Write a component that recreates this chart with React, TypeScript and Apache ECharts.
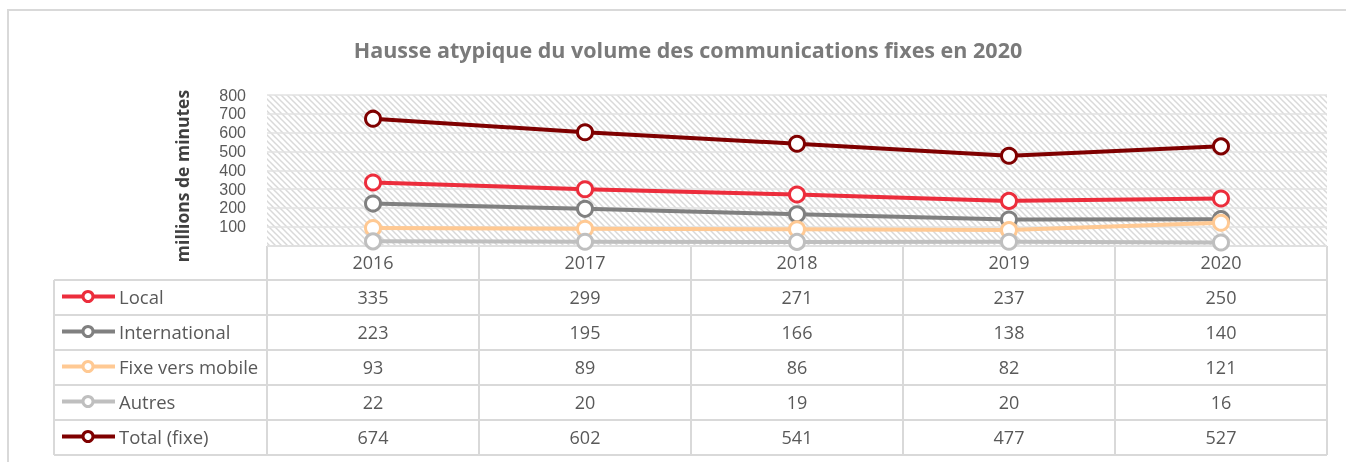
import React, { useEffect, useRef } from "react";
import * as echarts from "echarts";

const years = ["2016", "2017", "2018", "2019", "2020"];
const seriesNames = ["Local", "International", "Fixe vers mobile", "Autres", "Total (fixe)"];
const local = [335, 299, 271, 237, 250];
const international = [223, 195, 166, 138, 140];
const fixeVersMobile = [93, 89, 86, 82, 121];
const autres = [22, 20, 19, 20, 16];
const total = [674, 602, 541, 477, 527];
const seriesData = [local, international, fixeVersMobile, autres, total];
const seriesColors = ["#EC2D3C", "#808080", "#FFC993", "#BFBFBF", "#7F0000"];
const yTicks = { min: 0, max: 800, interval: 100 };

const FONT = "'Open Sans', sans-serif";
const TEXT = "#595959";
const GRID_LINE = "#d9d9d9";

function makeHatch(): HTMLCanvasElement {
  const c = document.createElement("canvas");
  c.width = 6;
  c.height = 6;
  const ctx = c.getContext("2d")!;
  ctx.fillStyle = "#ffffff";
  ctx.fillRect(0, 0, 6, 6);
  ctx.strokeStyle = "#d9d9d9";
  ctx.lineWidth = 1.5;
  ctx.beginPath();
  ctx.moveTo(-1, -1);
  ctx.lineTo(7, 7);
  ctx.moveTo(-7, -1);
  ctx.lineTo(1, 7);
  ctx.moveTo(5, -1);
  ctx.lineTo(13, 7);
  ctx.stroke();
  return c;
}

export default function App() {
  const ref = useRef<HTMLDivElement>(null);
  useEffect(() => {
    if (!ref.current) return;
    const chart = echarts.init(ref.current, null, { renderer: "svg" });

    const gridLeft = 267;
    const gridRight = 1327;
    const gridTop = 95;
    const gridBottomY = 245.5;
    const colW = (gridRight - gridLeft) / years.length;
    const headerTop = 246;
    const headerBottom = 280;
    const rowH = 35;
    const tableLeft = 54;
    const tableBottom = headerBottom + rowH * seriesNames.length;

    const graphics: any[] = [];
    graphics.push({
      type: "rect",
      shape: { x: 8, y: 10, width: 1400, height: 500 },
      style: { fill: "none", stroke: "#d9d9d9", lineWidth: 2 },
      silent: true,
    });
    const tableStroke = { stroke: GRID_LINE, lineWidth: 2 };
    graphics.push({ type: "line", shape: { x1: gridLeft, y1: headerTop, x2: gridRight, y2: headerTop }, style: tableStroke });
    for (let i = 0; i <= seriesNames.length; i++) {
      const y = headerBottom + i * rowH;
      graphics.push({ type: "line", shape: { x1: tableLeft, y1: y, x2: gridRight, y2: y }, style: tableStroke });
    }
    graphics.push({ type: "line", shape: { x1: tableLeft, y1: headerBottom, x2: tableLeft, y2: tableBottom }, style: tableStroke });
    for (let j = 0; j <= years.length; j++) {
      const x = gridLeft + j * colW;
      graphics.push({ type: "line", shape: { x1: x, y1: headerTop, x2: x, y2: tableBottom }, style: tableStroke });
    }
    years.forEach((yr, j) => {
      graphics.push({
        type: "text",
        style: {
          text: yr,
          x: gridLeft + (j + 0.5) * colW,
          y: (headerTop + headerBottom) / 2 - 1,
          textAlign: "center",
          textVerticalAlign: "middle",
          fill: TEXT,
          font: `18px ${FONT}`,
        },
      });
    });
    seriesNames.forEach((name, i) => {
      const cy = headerBottom + (i + 0.5) * rowH - 1;
      const color = seriesColors[i];
      graphics.push({ type: "line", shape: { x1: 62, y1: cy, x2: 115, y2: cy }, style: { stroke: color, lineWidth: 4 } });
      graphics.push({ type: "circle", shape: { cx: 88, cy, r: 5 }, style: { fill: "#fff", stroke: color, lineWidth: 3 } });
      graphics.push({
        type: "text",
        style: { text: name, x: 119, y: cy, textAlign: "left", textVerticalAlign: "middle", fill: TEXT, font: `18.5px ${FONT}` },
      });
      seriesData[i].forEach((v, j) => {
        graphics.push({
          type: "text",
          style: {
            text: String(v),
            x: gridLeft + (j + 0.5) * colW,
            y: cy,
            textAlign: "center",
            textVerticalAlign: "middle",
            fill: TEXT,
            font: `18px ${FONT}`,
          },
        });
      });
    });
    graphics.push({
      type: "text",
      x: 182,
      y: 176,
      rotation: Math.PI / 2,
      style: {
        text: "millions de minutes",
        x: 0,
        y: 0,
        textAlign: "center",
        textVerticalAlign: "middle",
        fill: "#404040",
        font: `bold 17.5px ${FONT}`,
      },
    });

    chart.setOption({
      animation: false,
      title: {
        text: "Hausse atypique du volume des communications fixes en 2020",
        left: 683,
        top: 33,
        textAlign: "center",
        textStyle: { color: "#7a7a7a", fontSize: 21.5, fontWeight: "bold", fontFamily: FONT },
      },
      grid: {
        left: gridLeft,
        right: 1346 - gridRight,
        top: gridTop,
        bottom: 462 - gridBottomY,
        show: true,
        borderWidth: 0,
        backgroundColor: { image: makeHatch(), repeat: "repeat" } as any,
      },
      xAxis: {
        type: "category",
        data: years,
        boundaryGap: true,
        axisLine: { show: false },
        axisTick: { show: false },
        axisLabel: { show: false },
        splitLine: { show: false },
      },
      yAxis: {
        type: "value",
        min: yTicks.min,
        max: yTicks.max,
        interval: yTicks.interval,
        axisLine: { show: false },
        axisTick: { show: false },
        axisLabel: {
          formatter: (v: number) => (v === 0 ? "" : String(v)),
          color: TEXT,
          fontSize: 16,
          lineHeight: 16,
          fontFamily: "'Liberation Sans', sans-serif",
          margin: 21,
        },
        splitLine: { lineStyle: { color: "#e2e2e2", width: 1.5 } },
      },
      series: seriesNames.map((name, i) => ({
        name,
        type: "line",
        data: seriesData[i],
        symbol: "circle",
        symbolSize: 15,
        lineStyle: { color: seriesColors[i], width: 4 },
        itemStyle: { color: "#ffffff", borderColor: seriesColors[i], borderWidth: 3 },
        z: 2 + i,
      })),
      graphic: graphics,
    });
    return () => chart.dispose();
  }, []);
  return <div ref={ref} style={{ position: "fixed", left: 0, top: 0, width: 1346, height: 462 }} />;
}
